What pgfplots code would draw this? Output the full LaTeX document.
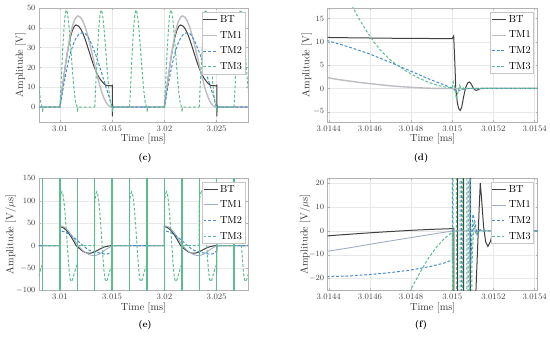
\documentclass[border=0pt]{standalone}
\usepackage{pgfplots}
\pgfplotsset{compat=1.18}
\usepackage{pgfplotstable}

\definecolor{cBT}{RGB}{64,64,64}
\definecolor{cTMa}{RGB}{188,188,194}
\definecolor{cTMb}{RGB}{158,174,198}
\definecolor{cTMtwo}{RGB}{70,140,205}
\definecolor{cTMthree}{RGB}{92,188,140}

% ---------- panel (c): voltage, t in us from pulse start ----------
\pgfplotstableread{
t v
-2 0
0 0
0.2 8.34
0.4 16.34
0.6 23.67
0.8 30.03
1.0 35.17
1.2 38.85
1.4 40.96
1.55 41.44
1.8 40.8
2.0 39.4
2.2 37.25
2.4 34.5
2.6 31.35
2.8 28.0
3.0 24.65
3.2 21.5
3.4 18.7
3.6 16.35
3.8 14.5
4.0 13.1
4.2 11.9
4.4 11.0
4.6 10.88
4.8 10.8
5.0 10.72
5.01 11.3
5.02 -4.7
5.05 0.8
5.1 0
8 0
}\cBT
\pgfplotstableread{
t v
-2 0
0 0
0.2 8.3
0.4 16.4
0.6 24.0
0.8 30.7
1.0 36.4
1.2 40.9
1.4 44.0
1.6 45.6
1.75 46.0
2.0 45.15
2.2 43.3
2.4 40.6
2.6 37.25
2.8 33.3
3.0 28.9
3.2 24.35
3.4 19.7
3.6 15.3
3.8 11.2
4.0 7.6
4.2 4.7
4.4 2.5
4.6 1.07
4.8 0.23
4.97 0
8 0
}\cTMa
\pgfplotstableread{
t v
-2 0
0 0
0.2 6.2
0.4 12.2
0.6 17.8
0.8 22.8
1.0 27.0
1.2 30.5
1.4 33.3
1.6 35.3
1.8 36.6
2.0 37.3
2.2 37.5
2.4 37.2
2.6 36.1
2.8 34.3
3.0 32.0
3.2 29.5
3.4 26.8
3.6 23.8
3.8 20.6
4.0 17.2
4.2 13.7
4.4 10.2
4.6 7.0
4.8 3.6
5.0 0.1
5.03 -0.5
5.1 0
8 0
}\cTMb
\pgfplotstableread{
t v
0 0
0.1 11
0.2 22
0.3 32
0.4 40.5
0.5 46.5
0.6 49
0.7 48
0.8 44.5
0.9 39
1.0 32.5
1.1 25.5
1.2 18.5
1.3 12
1.4 6.5
1.5 2.5
1.6 0.5
1.667 0
1.69 -2.5
1.72 0
3.333 0
}\cTMc

% ---------- panel (e): derivative ----------
\pgfplotstableread{
t v
-2 0
0 0
0 42
0.2 41.1
0.4 38.6
0.6 34.5
0.8 28.9
1.0 22.2
1.2 14.6
1.4 6.4
1.55 0
1.8 -5
2.0 -9
2.2 -12.5
2.4 -15
2.6 -16.5
2.8 -17
3.0 -16.5
3.2 -15
3.4 -13
3.6 -10.5
3.8 -8
4.0 -5.5
4.2 -3.5
4.4 -2.1
4.6 -1.2
4.8 -0.3
5.0 0.9
5.005 -64
5.012 17
5.02 -6
5.03 0
8 0
}\eBT
\pgfplotstableread{
t v
-2 0
0 0
0 44
0.2 43.5
0.4 41.5
0.6 38
0.8 33
1.0 27
1.2 20
1.4 12.5
1.6 5
1.75 0
2.0 -6.5
2.2 -11
2.4 -14.5
2.6 -17.5
2.8 -20
3.0 -21.5
3.2 -22
3.4 -21.8
3.6 -20.5
3.8 -18.5
4.0 -15.5
4.2 -12
4.4 -8.6
4.6 -5.8
4.8 -2.9
5.0 0
8 0
}\eTMa
\pgfplotstableread{
t v
-2 0
0 0
0 33
0.2 32.2
0.4 30.8
0.6 28.8
0.8 26.3
1.0 23.4
1.2 20.2
1.4 16.7
1.6 12.9
1.8 8.8
2.0 4.5
2.2 0
2.4 -3.5
2.6 -7
2.8 -10
3.0 -12
3.2 -13.2
3.4 -14.4
3.6 -15.5
3.8 -16.5
4.0 -17.3
4.2 -18.6
4.4 -19.2
4.6 -18.3
4.8 -16.4
5.0 -12.2
5.01 0
8 0
}\eTMb
\pgfplotstableread{
t v
0 0
0 95
0.1 115
0.2 120
0.3 113
0.4 96
0.5 70
0.6 38
0.7 5
0.8 -30
0.9 -60
1.0 -76
1.1 -80
1.2 -76
1.3 -68
1.4 -60
1.5 -52
1.6 -45
1.667 -42
1.667 0
3.333 0
}\eTMc
\pgfplotstableread{
t v
8.333 -300
8.333 300
nan nan
10 -300
10 300
nan nan
11.667 -300
11.667 300
nan nan
13.333 -300
13.333 300
nan nan
15 -300
15 300
nan nan
16.667 -300
16.667 300
nan nan
18.333 -300
18.333 300
nan nan
20 -300
20 300
nan nan
21.667 -300
21.667 300
nan nan
23.333 -300
23.333 300
nan nan
25 -300
25 300
nan nan
26.667 -300
26.667 300
}\eTMv

% ---------- panel (d): x = (t-3.014 ms)*1e4 ----------
\pgfplotstableread{
u v
3.9 10.97
5 10.9
6 10.85
7 10.8
8 10.77
9 10.74
10.0 10.72
10.07 11.3
10.13 5
10.17 0
10.25 -3.2
10.32 -4.4
10.39 -4.7
10.46 -4.0
10.55 -1.8
10.65 0.2
10.75 1.2
10.84 1.4
10.93 0.9
11.02 0.1
11.1 -0.3
11.17 -0.4
11.26 -0.25
11.35 -0.05
11.45 0.02
11.6 0
14.2 0
}\dBT
\pgfplotstableread{
u v
3.9 2.35
4.5 1.9
5 1.6
5.5 1.3
6 1.05
6.5 0.8
7 0.58
7.5 0.4
8 0.25
8.5 0.13
9 0.05
9.5 0.01
10 0
14.2 0
}\dTMa
\pgfplotstableread{
u v
3.9 10.35
4 10.2
5 8.9
6 7.4
7 5.6
8 3.7
9 1.8
10 0.1
10.15 -0.45
10.3 -0.5
10.5 -0.2
10.7 0.05
11 0
14.2 0
}\dTMb
\pgfplotstableread{
u v
4.8 20.5
5.19 17.3
5.47 15
5.8 12.6
6.19 10
6.6 7.8
7.0 6.1
7.33 5
7.7 3.9
8.0 3.1
8.4 2.2
8.8 1.4
9.2 0.8
9.6 0.35
10.0 0.1
10.05 1.4
10.12 0.3
10.2 -2.3
10.28 -0.8
10.36 0.7
10.45 -0.2
10.55 0.15
10.7 0
14.2 0
}\dTMc

% ---------- panel (f) ----------
\pgfplotstableread{
u v
3.9 -2.1
5 -1.4
6 -0.8
7 -0.25
8 0.25
9 0.65
10 0.95
10.08 1.05
10.1 -500
10.25 -500
10.26 500
10.27 -500
10.54 -500
10.55 500
10.56 -500
10.86 -500
10.87 500
10.88 -500
11.14 -500
11.15 -25
11.25 -3
11.31 10
11.36 20
11.42 14
11.52 2
11.62 -4.5
11.73 -6.5
11.85 -4.5
11.97 -0.5
12.09 2
12.2 1.2
12.35 0
14.2 0
}\fBT
\pgfplotstableread{
u v
3.9 -8.6
5 -7.1
6 -5.6
7 -4.2
8 -2.8
9 -1.4
9.9 -0.2
10 0
14.2 0
}\fTMa
\pgfplotstableread{
u v
3.9 -19.2
5 -18.9
6 -18.3
7 -17.5
8 -16.4
9 -14.8
9.6 -13.5
10 -12.2
10.12 500
10.44 500
10.45 -500
10.76 -500
10.78 500
10.9 -14
11.0 7
11.1 4
11.2 -1.5
11.35 0.5
11.5 0
14.2 0
}\fTMb
\pgfplotstableread{
u v
7.4 -45
7.96 -25
8.4 -18
8.8 -12
9.2 -7.2
9.6 -3.3
10 -0.5
10.03 -500
10.05 500
10.2 500
10.21 -500
10.38 -500
10.39 500
10.5 500
10.51 -500
10.7 -500
10.71 500
10.85 500
10.86 -500
10.95 -15
11.05 4
11.15 -1.5
11.3 0.5
11.5 0
14.2 0
}\fTMc

\pgfplotsset{
  base/.style={
    scale only axis, anchor=south west, clip=true,
    grid=major, grid style={gray!18, line width=0.4bp},
    axis line style={gray!60, line width=0.5bp},
    every tick/.style={gray!60, line width=0.4bp},
    tick align=inside, major tick length=2bp,
    scaled ticks=false,
    tick label style={font=\fontsize{8.5}{9.5}\selectfont, text=black!75},
    xlabel={Time [ms]},
    xlabel style={font=\fontsize{10.3}{11}\selectfont, text=black!80, at={(axis description cs:0.5,0)}, anchor=center, yshift=-17bp},
    ylabel style={font=\fontsize{10.3}{11}\selectfont, text=black!80, anchor=center},
    legend style={at={(1,1)}, anchor=north east, draw=gray!45, fill=white,
      font=\fontsize{10.3}{11}\selectfont, inner sep=0.8bp, row sep=3.2bp},
    legend cell align=left,
    legend image code/.code={\draw[##1] (0bp,0bp) -- (14bp,0bp);},
  },
  bt/.style={color=cBT, line width=1.0bp},
  tma/.style={color=cTMa, line width=1.4bp},
  tmaa/.style={color=cTMb, line width=0.9bp},
  tmb/.style={color=cTMtwo, line width=1.0bp, dash pattern=on 2.8bp off 1.9bp},
  tmc/.style={color=cTMthree, line width=1.0bp, dash pattern=on 2.8bp off 1.9bp},
}

\begin{document}
\begin{tikzpicture}
\useasboundingbox (0,0) rectangle (550bp,340bp);

% (c)
\begin{axis}[base, at={(39bp,218bp)}, width=209bp, height=114bp,
  xmin=8, xmax=28, ymin=-7.5, ymax=50,
  xtick={10,15,20,25}, xticklabels={3.01,3.015,3.02,3.025},
  ytick={0,10,20,30,40,50},
  ylabel={Amplitude [V]}, ylabel style={at={(axis description cs:-0.09,0.5)}},
  legend style={xshift=-3bp, yshift=-4.5bp}]
\addplot[bt] table[x expr=\thisrow{t}+10, y=v]{\cBT}; \addlegendentry{BT}
\addplot[bt, forget plot] table[x expr=\thisrow{t}+20, y=v]{\cBT};
\addplot[tma] table[x expr=\thisrow{t}+10, y=v]{\cTMa}; \addlegendentry{TM1}
\addplot[tma, forget plot] table[x expr=\thisrow{t}+20, y=v]{\cTMa};
\addplot[tmb] table[x expr=\thisrow{t}+10, y=v]{\cTMb}; \addlegendentry{TM2}
\addplot[tmb, forget plot] table[x expr=\thisrow{t}+20, y=v]{\cTMb};
\addplot[tmc] table[x expr=\thisrow{t}+6.667, y=v]{\cTMc}; \addlegendentry{TM3}
\addplot[tmc, forget plot] table[x expr=\thisrow{t}+10, y=v]{\cTMc};
\addplot[tmc, forget plot] table[x expr=\thisrow{t}+13.333, y=v]{\cTMc};
\addplot[tmc, forget plot] table[x expr=\thisrow{t}+16.667, y=v]{\cTMc};
\addplot[tmc, forget plot] table[x expr=\thisrow{t}+20, y=v]{\cTMc};
\addplot[tmc, forget plot] table[x expr=\thisrow{t}+23.333, y=v]{\cTMc};
\addplot[tmc, forget plot] table[x expr=\thisrow{t}+26.667, y=v]{\cTMc};
\end{axis}

% (d)
\begin{axis}[base, at={(327.7bp,218bp)}, width=210bp, height=114bp,
  xmin=3.95, xmax=14.15, ymin=-7.2, ymax=17.3,
  xtick={4,6,8,10,12,14}, xticklabels={3.0144,3.0146,3.0148,3.015,3.0152,3.0154},
  ytick={-5,0,5,10,15},
  ylabel={Amplitude [V]}, ylabel style={at={(axis description cs:-0.10,0.5)}},
  legend style={xshift=-4bp, yshift=-4.3bp}]
\addplot[bt] table[x=u, y=v]{\dBT}; \addlegendentry{BT}
\addplot[tma] table[x=u, y=v]{\dTMa}; \addlegendentry{TM1}
\addplot[tmb] table[x=u, y=v]{\dTMb}; \addlegendentry{TM2}
\addplot[tmc] table[x=u, y=v]{\dTMc}; \addlegendentry{TM3}
\end{axis}

% (e)
\begin{axis}[base, at={(39bp,49.5bp)}, width=209bp, height=112.2bp,
  xmin=8, xmax=28, ymin=-100, ymax=150,
  xtick={10,15,20,25}, xticklabels={3.01,3.015,3.02,3.025},
  ytick={-100,-50,0,50,100,150},
  ylabel={Amplitude [V/$\mu$s]}, ylabel style={at={(axis description cs:-0.135,0.5)}},
  legend style={xshift=-3bp, yshift=-3.7bp}]
\addplot[bt] table[x expr=\thisrow{t}+10, y=v]{\eBT}; \addlegendentry{BT}
\addplot[bt, forget plot] table[x expr=\thisrow{t}+20, y=v]{\eBT};
\addplot[tmaa] table[x expr=\thisrow{t}+10, y=v]{\eTMa}; \addlegendentry{TM1}
\addplot[tmaa, forget plot] table[x expr=\thisrow{t}+20, y=v]{\eTMa};
\addplot[tmb] table[x expr=\thisrow{t}+10, y=v]{\eTMb}; \addlegendentry{TM2}
\addplot[tmb, forget plot] table[x expr=\thisrow{t}+20, y=v]{\eTMb};
\addplot[tmc] table[x expr=\thisrow{t}+6.667, y=v]{\eTMc}; \addlegendentry{TM3}
\addplot[tmc, forget plot] table[x expr=\thisrow{t}+10, y=v]{\eTMc};
\addplot[tmc, forget plot] table[x expr=\thisrow{t}+13.333, y=v]{\eTMc};
\addplot[tmc, forget plot] table[x expr=\thisrow{t}+16.667, y=v]{\eTMc};
\addplot[tmc, forget plot] table[x expr=\thisrow{t}+20, y=v]{\eTMc};
\addplot[tmc, forget plot] table[x expr=\thisrow{t}+23.333, y=v]{\eTMc};
\addplot[tmc, forget plot] table[x expr=\thisrow{t}+26.667, y=v]{\eTMc};
\addplot[color=cTMthree, line width=1.4bp, solid, forget plot, unbounded coords=jump] table[x=t, y=v]{\eTMv};
\end{axis}

% (f)
\begin{axis}[base, at={(327.7bp,49.5bp)}, width=210bp, height=112bp,
  xmin=3.95, xmax=14.15, ymin=-25, ymax=22,
  xtick={4,6,8,10,12,14}, xticklabels={3.0144,3.0146,3.0148,3.015,3.0152,3.0154},
  ytick={-20,-10,0,10,20},
  ylabel={Amplitude [V/$\mu$s]}, ylabel style={at={(axis description cs:-0.108,0.5)}},
  legend style={xshift=-4bp, yshift=-3.7bp}]
\addplot[bt] table[x=u, y=v]{\fBT}; \addlegendentry{BT}
\addplot[tmaa] table[x=u, y=v]{\fTMa}; \addlegendentry{TM1}
\addplot[tmb] table[x=u, y=v]{\fTMb}; \addlegendentry{TM2}
\addplot[tmc] table[x=u, y=v]{\fTMc}; \addlegendentry{TM3}
\end{axis}

\node[font=\bfseries\fontsize{9.5}{10}\selectfont] at (145bp,182bp) {(c)};
\node[font=\bfseries\fontsize{9.5}{10}\selectfont] at (421bp,182bp) {(d)};
\node[font=\bfseries\fontsize{9.5}{10}\selectfont] at (145bp,15bp) {(e)};
\node[font=\bfseries\fontsize{9.5}{10}\selectfont] at (421bp,15bp) {(f)};
\end{tikzpicture}
\end{document}
